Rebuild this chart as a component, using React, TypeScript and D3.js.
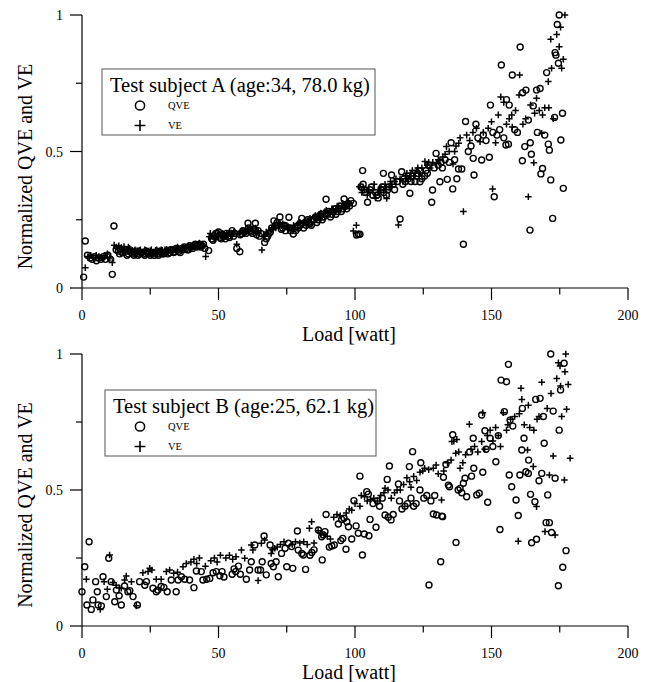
import React from "react";
import * as d3 from "d3";

// ---------- Data (watt, normalized value) ----------
const qveA: [number, number][] = [
  [0.6,0.04],[1.2,0.172],[2,0.12],[3,0.11],[3.8,0.105],[4.5,0.115],[5.3,0.1],[6,0.11],[7,0.105],[7.8,0.115],[8.6,0.105],[9.5,0.12],[10.5,0.105],[11.1,0.05],[11.7,0.227],[12.5,0.14],
  [13.3,0.135],[14.2,0.14],[15,0.13],[16,0.135],[17,0.125],[18,0.13],[19,0.12],[20,0.135],[21,0.125],[22,0.13],[23,0.12],[24,0.13],[25,0.12],[26,0.128],[27,0.13],[28,0.12],[29,0.13],[30,0.125],[31,0.135],[32,0.13],[33,0.138],[34,0.132],[35,0.14],[36,0.13],[37,0.14],[38,0.145],[39,0.14],[40,0.15],[41,0.155],[42,0.15],[43,0.16],[44,0.155],[45,0.145],[46.4,0.137],
  [13.8,0.125],[14.7,0.13],[15.5,0.14],[16.5,0.12],[17.5,0.135],[18.5,0.125],[19.5,0.13],[20.5,0.12],[21.5,0.13],[22.5,0.125],[23.5,0.135],[24.5,0.125],[25.5,0.13],[26.5,0.12],[27.5,0.125],[28.5,0.135],[29.5,0.125],[30.5,0.13],[31.5,0.125],[32.5,0.14],[33.5,0.13],[34.5,0.145],[35.5,0.135],[36.5,0.145],[37.5,0.15],[38.5,0.14],[39.5,0.155],[40.5,0.145],[41.5,0.16],[42.5,0.155],[43.5,0.15],[44.5,0.16],
  [47.5,0.18],[48.5,0.19],[49.5,0.2],[50.5,0.185],[51.5,0.195],[52.5,0.18],[53.5,0.19],[54.5,0.2],[55.5,0.19],[56.7,0.145],[57.8,0.133],[58.5,0.2],[59.5,0.205],[60.8,0.237],[61.5,0.21],[62.5,0.2],[63.5,0.237],[64.5,0.21],[65.5,0.2],[66.9,0.167],[67.5,0.18],[68.5,0.2],[69.5,0.22],[70.3,0.246],
  [48,0.175],[49,0.2],[50,0.205],[51,0.18],[52,0.19],[53,0.2],[54,0.185],[55,0.21],[56,0.2],[58,0.195],[59,0.21],[60,0.2],[61,0.22],[62,0.205],[63,0.215],[64,0.195],[65,0.19],[68,0.19],[69,0.205],
  [71,0.23],[72.5,0.26],[73.5,0.22],[74.5,0.21],[75.8,0.259],[76.5,0.21],[77.4,0.198],[78.3,0.21],[79.2,0.22],[80.5,0.255],[81.2,0.22],[82.1,0.23],[83,0.24],[84,0.23],[85,0.25],[86,0.24],[87,0.26],[88,0.25],[89.4,0.325],[90,0.27],[91,0.26],[92,0.28],[93,0.27],[94,0.29],[95,0.28],[96,0.326],[97,0.29],[98,0.3],[99.4,0.31],[100.6,0.194],[101.2,0.197],[101.8,0.197],
  [71.5,0.24],[73,0.215],[74,0.23],[76,0.22],[78.8,0.225],[80,0.23],[81.7,0.24],[82.6,0.25],[83.5,0.235],[84.5,0.25],[85.5,0.26],[86.5,0.25],[87.5,0.27],[88.5,0.26],[90.5,0.28],[91.5,0.27],[92.5,0.29],[93.5,0.28],[94.5,0.3],[95.5,0.29],[96.5,0.3],[97.5,0.31],[98.5,0.32],
  [102.2,0.37],[102.8,0.43],[103,0.38],[103.8,0.35],[104.6,0.314],[105.5,0.36],[106.5,0.34],[107.5,0.35],[108.5,0.33],[109.5,0.36],[110.4,0.42],[110.5,0.35],[111.5,0.34],[112.5,0.37],[113.4,0.414],[114.5,0.36],[115.5,0.39],[116.5,0.253],[117.1,0.426],[117.5,0.38],
  [103.3,0.36],[106,0.37],[108,0.34],[110,0.37],[112,0.36],[114,0.38],[118,0.4],[120.5,0.39],[122.5,0.41],[124,0.43],[126.5,0.42],[129,0.44],[131.5,0.46],[133,0.47],
  [118.5,0.39],[119.5,0.4],[120.1,0.347],[121,0.41],[122,0.39],[123,0.42],[123.8,0.389],[124.5,0.4],[125.5,0.41],[126,0.43],[127,0.45],[128.1,0.314],[128.4,0.359],[129.7,0.493],[130.5,0.45],[131.1,0.389],[132,0.44],[133.8,0.398],[134.5,0.46],[135.2,0.532],[135.8,0.363],[136.5,0.47],[137.3,0.4],[137.9,0.436],[139.1,0.436],[139.7,0.16],[140.5,0.61],[141.5,0.5],[142.5,0.52],[143.3,0.475],[143.6,0.414],[144.3,0.6],[145,0.55],[146.4,0.469],[147,0.56],[148,0.54],[149.2,0.479],[149.6,0.67],[150.5,0.57],[151,0.334],[152,0.56],[153,0.58],[153.6,0.817],[154.5,0.55],[155.3,0.524],[155.5,0.69],[156.2,0.527],[156.5,0.67],[157.6,0.78],[158.5,0.58],[159.5,0.57],[160.5,0.883],[161.3,0.466],[161.4,0.715],[162.2,0.518],[162.6,0.725],[163.5,0.615],[164.1,0.212],[164.2,0.532],[164.6,0.49],[165.3,0.667],[166.5,0.725],[166.8,0.57],[167.8,0.731],[168.1,0.418],[168.7,0.438],[169.5,0.56],[170.2,0.789],[170.8,0.527],[171.2,0.505],[171.7,0.396],[172.4,0.255],[173.1,0.625],[173.3,0.862],[173.6,0.853],[174.1,0.965],[174.5,0.823],[174.8,1.0],[175.4,0.542],[176,0.64],[176.3,0.365]
];

const veA: [number, number][] = [
  [1.2,0.074],[2.2,0.115],[3.2,0.12],[4.2,0.11],[5.2,0.12],[6.2,0.115],[7.2,0.11],[8.2,0.12],[9.3,0.125],[10.2,0.11],[11.1,0.093],[11.8,0.157],[12.6,0.15],[13.5,0.155],[14.4,0.148],[15.4,0.152],[16.4,0.142],[17.4,0.145],[18.4,0.138],[19.4,0.14],[20.4,0.135],[21.4,0.14],[22.4,0.132],[23.4,0.138],[24.4,0.135],[25.4,0.14],[26.4,0.133],[27.4,0.14],[28.4,0.135],[29.4,0.138],[30.4,0.14],[31.4,0.136],[32.4,0.14],[33.4,0.142],[34.4,0.138],[35.4,0.145],[36.4,0.14],[37.4,0.145],[38.4,0.15],[39.4,0.148],[40.4,0.155],[41.4,0.16],[42.4,0.158],[43.4,0.16],[44.4,0.155],[45.3,0.115],
  [13,0.145],[15,0.14],[17,0.15],[19,0.135],[21,0.138],[23,0.14],[25,0.136],[27,0.138],[29,0.14],[31,0.142],[33,0.138],[35,0.15],[37,0.148],[39,0.155],[41,0.15],[43,0.165],
  [46.6,0.188],[47.6,0.19],[48.6,0.18],[49.6,0.195],[50.6,0.19],[51.6,0.2],[52.6,0.19],[53.6,0.195],[54.6,0.2],[55.6,0.205],[56.7,0.16],[57.6,0.2],[58.6,0.21],[59.6,0.2],[60.6,0.215],[61.6,0.22],[62.6,0.21],[63.6,0.22],[64.6,0.205],[65.9,0.139],[66.8,0.19],[68,0.2],[69,0.21],[70,0.215],[71,0.22],[72,0.24],[73,0.23],[74,0.22],[75,0.23],[76,0.22],[77,0.215],[78,0.22],[79,0.235],[80,0.24],[81,0.235],[82,0.245],[83,0.25],[84,0.24],[85,0.26],[86,0.255],[87,0.27],[88,0.26],[89,0.28],[90,0.275],[91,0.28],[92,0.29],[93,0.285],[94,0.3],[95,0.29],[96,0.305],[97,0.3],[98,0.31],[99.4,0.209],[100.5,0.23],
  [47,0.2],[49,0.185],[51,0.195],[53,0.2],[55,0.195],[58,0.205],[60,0.21],[62,0.215],[64,0.21],[67.5,0.205],[69.5,0.22],[71.5,0.23],[73.5,0.235],[75.5,0.225],[77.5,0.23],[79.5,0.24],[81.5,0.245],[83.5,0.255],[85.5,0.265],[87.5,0.275],[89.5,0.285],[91.5,0.29],[93.5,0.3],[95.5,0.31],[97.5,0.315],
  [101.6,0.371],[102.5,0.35],[103.5,0.36],[104.5,0.34],[105.5,0.35],[106.5,0.36],[107.5,0.33],[108.5,0.35],[109.5,0.37],[110.5,0.36],[111.6,0.328],[112.5,0.37],[113.5,0.38],[114.5,0.39],[115.9,0.231],[116.5,0.4],[117.5,0.39],[118.5,0.41],[119.5,0.4],[120.5,0.42],[121.5,0.41],[122.5,0.43],[123.5,0.42],[124.5,0.44],[125.6,0.463],[126.5,0.45],[127.5,0.44],[128.5,0.46],[129.9,0.457],[131.1,0.469],[132.2,0.48],[133.5,0.518],[134.5,0.5],[135.9,0.454],[137,0.52],[138,0.53],[139.7,0.28],
  [103,0.37],[105,0.36],[107,0.38],[109,0.36],[111,0.38],[113,0.39],[115,0.4],[119,0.42],[121,0.43],[123,0.44],[127,0.46],[130.5,0.47],[133,0.49],[136.5,0.5],[138.5,0.55],
  [140.9,0.56],[142,0.54],[143.2,0.57],[144.5,0.585],[145.8,0.536],[147,0.57],[148.8,0.585],[150,0.609],[150.4,0.363],[151.5,0.532],[152.5,0.634],[153.4,0.7],[154.5,0.68],[155.5,0.6],[156.5,0.62],[157.4,0.634],[157.6,0.59],[158.8,0.65],[160.1,0.707],[160.3,0.78],[161.5,0.6],[162.5,0.62],[163.5,0.334],[164.3,0.67],[165.5,0.459],[165.8,0.64],[166.5,0.695],[167.5,0.65],[168.4,0.567],[168.7,0.634],[169.5,0.66],[170.8,0.756],[171,0.66],[171.7,0.911],[172,0.805],[172.6,0.62],[173.9,0.929],[174.8,0.884],[175.3,0.955],[175.7,0.805],[176.3,0.838],[176.9,1.0]
];

const qveB: [number, number][] = [
  [0,0.126],[1,0.218],[1.8,0.077],[2.6,0.31],[3.4,0.061],[4,0.096],[5,0.163],[5.6,0.126],[5.9,0.077],[7.1,0.074],[7.7,0.181],[8.9,0.108],[9.8,0.249],[10.7,0.163],[12,0.089],[12.6,0.132],[13.6,0.111],[14.4,0.077],[15.6,0.147],[16.8,0.126],[17.5,0.13],[18.7,0.108],[20.3,0.077],[21.1,0.163],[23,0.15],[23.6,0.163],[26,0.139],[27.2,0.126],[27.8,0.132],[29,0.145],[30,0.142],[31.2,0.126],[32.7,0.169],[34.5,0.126],[35.2,0.169],[36.4,0.181],[37.6,0.172],[39.4,0.169],[41,0.141],[41.9,0.202],[43.7,0.2],[44.3,0.169],[45.7,0.172],[46.8,0.175],[48,0.196],[49.2,0.2],[50.5,0.185],[51.3,0.2],[52,0.18],[55,0.19],[55.7,0.21],[56.3,0.2],[57.3,0.22],[58,0.19],[60.2,0.172],[61.4,0.206],[62,0.236],[63.3,0.298],[64.5,0.206],[65.4,0.206],[66,0.236],[66.7,0.331],[67.5,0.188],[68.9,0.298],[69.3,0.23],[70.1,0.218],[71.1,0.236],[71.9,0.181],[73.1,0.267],[74.4,0.286],[75,0.218],[75.6,0.304],[76.8,0.292],[77.2,0.212],[78.9,0.349],[79.2,0.279],[80.5,0.267],[81.1,0.261],[81.9,0.208],[83.5,0.26],[84.2,0.27],[85,0.28],[86.6,0.353],[87.8,0.328],[88,0.243],[88.4,0.335],[89,0.347],[89.4,0.41],[90.6,0.29],[91.5,0.294],[92.4,0.298],[93.9,0.375],[94.8,0.314],[95.1,0.392],[95.5,0.322],[96,0.396],[96.7,0.282],[97,0.383],[97.6,0.365],[98.8,0.32],[99.6,0.461],[100.4,0.368],[101.2,0.341],[101.8,0.551],[102.7,0.261],[103.4,0.338],[104.3,0.494],[104.9,0.485],[105.1,0.332],[105.5,0.392],[106.6,0.45],[107.7,0.363],[108.2,0.46],[109,0.44],[110,0.47],[111,0.408],[111.8,0.539],[112.2,0.4],[112.6,0.588],[113.2,0.39],[114,0.41],[115.9,0.522],[116.3,0.46],[117.2,0.43],[118.3,0.44],[119.2,0.45],[119.9,0.586],[120.5,0.47],[121.1,0.641],[121.5,0.44],[122.4,0.45],[123.8,0.5],[124.1,0.6],[125.2,0.47],[126.3,0.48],[127.1,0.151],[127.8,0.46],[128.7,0.412],[129.2,0.48],[129.9,0.408],[131.4,0.236],[131.8,0.404],[132.1,0.402],[132.4,0.547],[133.3,0.594],[134.2,0.518],[134.6,0.512],[135.8,0.703],[137,0.307],[137.8,0.5],[138.5,0.506],[139.1,0.49],[139.7,0.525],[140.3,0.543],[140.9,0.475],[142,0.64],[142.7,0.551],[143.3,0.69],[143.5,0.58],[144.6,0.482],[145.5,0.488],[146.4,0.776],[146.8,0.565],[147.6,0.718],[148,0.65],[148.6,0.455],[149.5,0.69],[150.5,0.66],[151.6,0.604],[152.5,0.7],[153.1,0.355],[153.5,0.904],[154.7,0.788],[155.5,0.898],[156.2,0.962],[156.5,0.555],[156.8,0.757],[157.4,0.512],[157.8,0.735],[159,0.463],[159.8,0.406],[160.4,0.555],[161.1,0.647],[161.3,0.8],[161.9,0.69],[162.6,0.567],[163.5,0.561],[163.6,0.61],[164.3,0.484],[164.7,0.306],[165.9,0.457],[166.2,0.833],[166.5,0.319],[167.4,0.534],[167.8,0.837],[168.4,0.561],[169,0.77],[169.3,0.672],[170,0.38],[170.6,0.482],[171.2,0.38],[171.7,1.0],[172,0.344],[172.6,0.79],[173.3,0.543],[174.5,0.148],[174.8,0.72],[175.3,0.868],[176.1,0.216],[176.6,0.966],[177.3,0.277]
];

const veB: [number, number][] = [
  [1.6,0.172],[6.7,0.061],[8.1,0.163],[9.3,0.135],[10.1,0.261],[11.3,0.16],[12.5,0.15],[13.7,0.14],[14.4,0.139],[15.6,0.169],[16.2,0.184],[18.1,0.163],[19.9,0.074],[22.3,0.196],[24.2,0.2],[24.8,0.212],[25.6,0.206],[27.2,0.172],[29,0.172],[30.9,0.2],[32.1,0.206],[33.6,0.194],[35,0.198],[37,0.218],[38.2,0.23],[39.9,0.235],[41,0.245],[42,0.23],[43,0.25],[45.2,0.22],[47.2,0.24],[48.5,0.25],[49.5,0.235],[50.7,0.26],[52.7,0.25],[54,0.26],[55.2,0.245],[56.4,0.255],[58.4,0.279],[59.6,0.249],[62,0.298],[62.6,0.279],[64.5,0.167],[65.7,0.304],[66.9,0.316],[69.3,0.267],[69.8,0.28],[70.6,0.286],[71.5,0.29],[72.7,0.3],[74,0.31],[77,0.3],[78.2,0.31],[79.8,0.305],[81.2,0.31],[82.5,0.3],[83.3,0.359],[84.1,0.383],[85,0.305],[86.5,0.35],[87.5,0.34],[88.7,0.335],[89.8,0.33],[91,0.32],[92.2,0.4],[93.4,0.41],[94.6,0.405],[96.8,0.415],[97.9,0.43],[98.8,0.426],[100,0.45],[101.8,0.44],[102.3,0.48],[103.5,0.475],[104.5,0.46],[105.7,0.465],[106.9,0.47],[108.2,0.46],[109.4,0.48],[110.6,0.49],[111,0.506],[112.1,0.5],[113.3,0.47],[114.5,0.49],[115.4,0.5],[116.6,0.5],[117.8,0.52],[119,0.545],[120,0.53],[120.5,0.51],[121.5,0.55],[122.6,0.535],[123.8,0.565],[124.8,0.57],[125.5,0.58],[127,0.575],[128.7,0.58],[129.7,0.592],[130.5,0.56],[131.7,0.463],[132.5,0.57],[133.9,0.6],[135.2,0.61],[135.5,0.678],[136.2,0.679],[136.9,0.635],[137.3,0.686],[138,0.64],[138.5,0.58],[139.5,0.6],[140.5,0.63],[141.9,0.742],[142.5,0.65],[143.8,0.66],[145,0.64],[146.4,0.678],[146.8,0.784],[147.5,0.65],[148.5,0.7],[149.5,0.72],[150.5,0.68],[151.5,0.73],[152.5,0.7],[153.3,0.66],[154.3,0.784],[155.5,0.72],[156,0.74],[157,0.76],[158.5,0.77],[159.8,0.312],[160.2,0.78],[160.8,0.874],[161.1,0.833],[162,0.74],[163.2,0.647],[163.5,0.812],[164,0.73],[165.3,0.586],[165.5,0.72],[166.5,0.439],[166.7,0.76],[167.4,0.77],[168.4,0.896],[169.6,0.347],[170.4,0.8],[171.2,0.555],[171.8,0.855],[172.6,0.625],[173.3,0.335],[173.9,0.91],[174.5,0.968],[175.1,0.956],[175.3,0.882],[175.7,0.77],[176.7,0.537],[176.9,0.935],[177.2,1.0],[177.5,0.797],[178.1,0.888],[178.8,0.617]
];

const xMajorTicks = [0, 50, 100, 150, 200];
const xMinorTicks = [25, 75, 125, 175];
const yMajorTicks = [0, 0.5, 1];
const yMinorTicks = [0.25, 0.75];
const legendTitles = ["Test subject A (age:34, 78.0 kg)", "Test subject B (age:25, 62.1 kg)"];
const seriesNames = ["QVE", "VE"];
const xTitle = "Load [watt]";
const yTitle = "Normalized QVE and VE";

const FONT = "Liberation Serif";

type PanelProps = {
  qve: [number, number][];
  ve: [number, number][];
  yTop: number;
  yBottom: number;
  title: string;
  box: { x: number; y: number; w: number; h: number };
};

function Panel({ qve, ve, yTop, yBottom, title, box }: PanelProps) {
  const x = d3.scaleLinear().domain([0, 200]).range([82, 628]);
  const y = d3.scaleLinear().domain([0, 1]).range([yBottom, yTop]);
  const fmt = (v: number) => String(v);
  const pr = 3.3;
  const circleY = box.y + 36.5;
  const plusY = box.y + 56.5;
  const txt = { fontFamily: FONT };
  return (
    <g>
      {/* axes */}
      <line x1={x(0)} x2={x(200)} y1={y(0)} y2={y(0)} stroke="#000" strokeWidth={1.2} />
      <line x1={x(0)} x2={x(0)} y1={y(0)} y2={y(1)} stroke="#000" strokeWidth={1.2} />
      {xMajorTicks.map((t) => (
        <g key={"xm" + t}>
          <line x1={x(t)} x2={x(t)} y1={y(0)} y2={y(0) + 12} stroke="#000" strokeWidth={1.2} />
          <text x={x(t)} y={y(0) + 32} textAnchor="middle" fontSize={14} style={txt}>{t}</text>
        </g>
      ))}
      {xMinorTicks.map((t) => (
        <line key={"xn" + t} x1={x(t)} x2={x(t)} y1={y(0)} y2={y(0) + 6.5} stroke="#000" strokeWidth={1.2} />
      ))}
      {yMajorTicks.map((t) => (
        <g key={"ym" + t}>
          <line x1={x(0) - 12} x2={x(0)} y1={y(t)} y2={y(t)} stroke="#000" strokeWidth={1.2} />
          <text x={x(0) - 19} y={y(t) + 5} textAnchor="end" fontSize={14} style={txt}>{fmt(t)}</text>
        </g>
      ))}
      {yMinorTicks.map((t) => (
        <line key={"yn" + t} x1={x(0) - 6} x2={x(0)} y1={y(t)} y2={y(t)} stroke="#000" strokeWidth={1.2} />
      ))}
      <text x={x(100) - 6} y={y(0) + 53} textAnchor="middle" fontSize={20} style={txt}>{xTitle}</text>
      <text transform={`translate(32,${(y(0) + y(1)) / 2 + 15}) rotate(-90)`} textAnchor="middle" fontSize={20} style={txt}>{yTitle}</text>

      {/* data */}
      {qve.map(([w, v], i) => (
        <circle key={"c" + i} cx={x(w)} cy={y(v)} r={3} fill="none" stroke="#000" strokeWidth={1.4} />
      ))}
      {ve.map(([w, v], i) => (
        <path key={"p" + i} d={`M${x(w) - pr},${y(v)}H${x(w) + pr}M${x(w)},${y(v) - pr}V${y(v) + pr}`} stroke="#000" strokeWidth={1.5} fill="none" />
      ))}

      {/* legend */}
      <rect x={box.x} y={box.y} width={box.w} height={box.h} fill="#fff" stroke="#555" strokeWidth={1} />
      <text x={box.x + 8} y={box.y + 23} fontSize={20.5} style={txt}>{title}</text>
      <circle cx={140} cy={circleY} r={4.6} fill="none" stroke="#000" strokeWidth={1.5} />
      <text x={168} y={circleY + 3.5} fontSize={10.5} style={txt}>{seriesNames[0]}</text>
      <path d={`M134.5,${plusY}H145.5M140,${plusY - 5.5}V${plusY + 5.5}`} stroke="#000" strokeWidth={1.6} />
      <text x={168} y={plusY + 3.5} fontSize={10.5} style={txt}>{seriesNames[1]}</text>
    </g>
  );
}

export default function App() {
  return (
    <svg width={651} height={682} style={{ position: "absolute", left: 0, top: 0, background: "#fff" }}>
      <rect width={651} height={682} fill="#fff" />
      <Panel qve={qveA} ve={veA} yTop={15} yBottom={288} title={legendTitles[0]} box={{ x: 102, y: 69, w: 273, h: 66 }} />
      <Panel qve={qveB} ve={veB} yTop={354} yBottom={626} title={legendTitles[1]} box={{ x: 105, y: 390, w: 271, h: 66 }} />
    </svg>
  );
}
